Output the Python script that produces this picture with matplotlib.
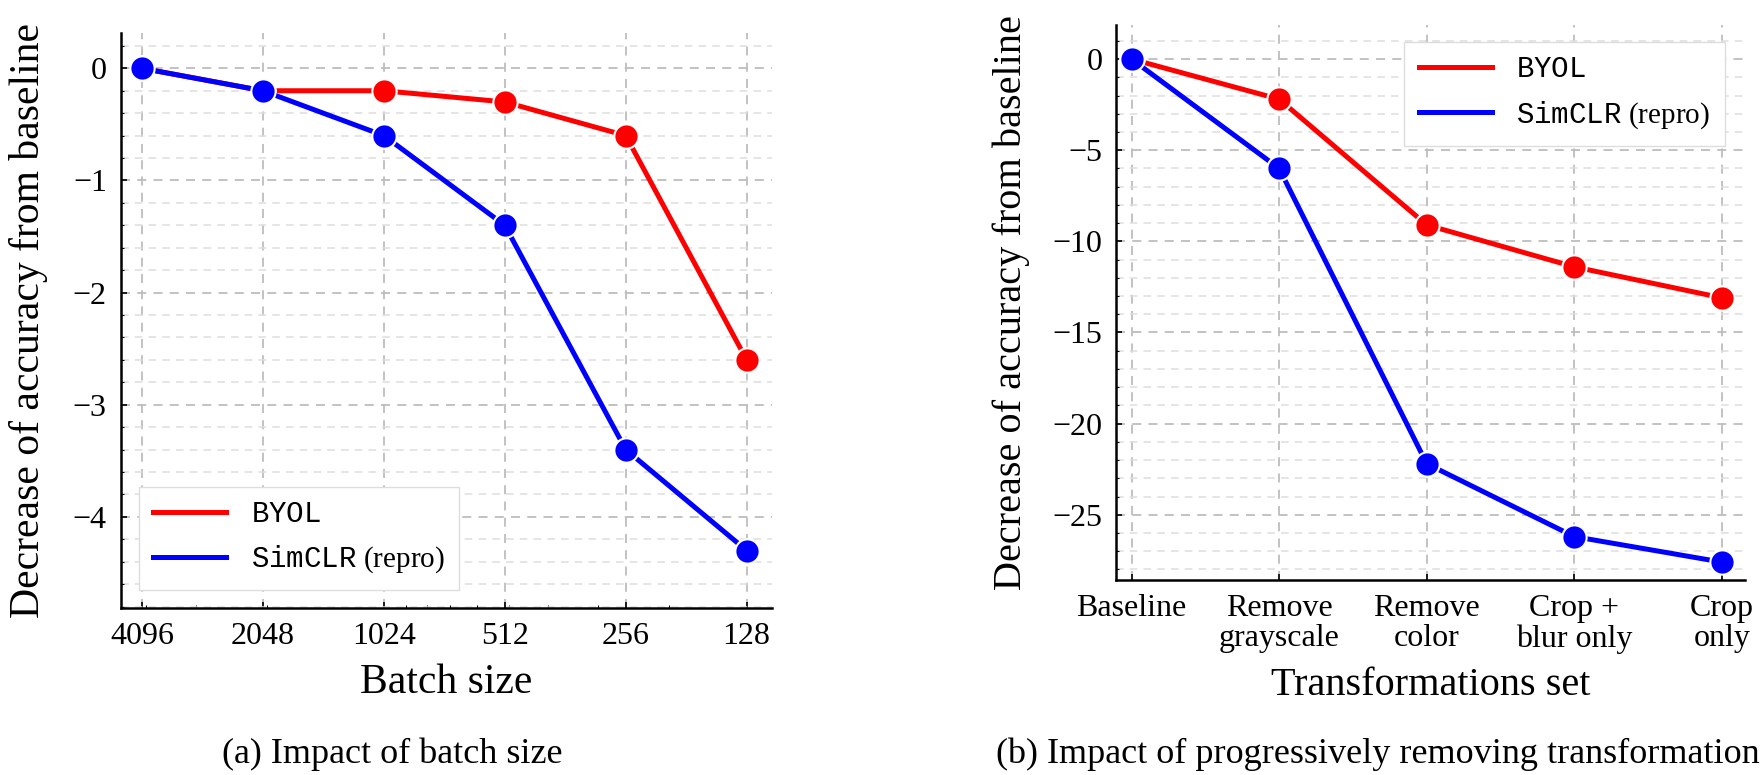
import numpy as np
import matplotlib
matplotlib.use("Agg")
import matplotlib.pyplot as plt
from matplotlib.lines import Line2D
from matplotlib.ticker import MultipleLocator, NullFormatter

# data --------------------------------------------------------------
batch_sizes = [4096, 2048, 1024, 512, 256, 128]
byol_batch = [0.0, -0.2, -0.2, -0.3, -0.6, -2.6]
simclr_batch = [0.0, -0.2, -0.6, -1.4, -3.4, -4.3]

transf_labels = ["Baseline", "Remove\ngrayscale", "Remove\ncolor",
                 "Crop +\nblur only", "Crop\nonly"]
byol_transf = [0.0, -2.2, -9.1, -11.4, -13.1]
simclr_transf = [0.0, -6.0, -22.2, -26.2, -27.6]

# style ---------------------------------------------------------------
plt.rcParams['font.family'] = ['Liberation Serif', 'DejaVu Serif']
plt.rcParams['mathtext.fontset'] = 'custom'
plt.rcParams['mathtext.rm'] = 'Liberation Serif'
plt.rcParams['mathtext.tt'] = 'Liberation Mono'

RED = '#ff0000'
BLUE = '#0000ff'
LW = 3.6
MS = 17.5
TICK_FS = 23
LABEL_FS = 29
LEG_FS = 21

def style_axes(ax):
  ax.spines['top'].set_visible(False)
  ax.spines['right'].set_visible(False)
  for s in ['left', 'bottom']:
    ax.spines[s].set_linewidth(1.8)
  ax.tick_params(which='major', direction='in', length=4, width=1.2,
                 labelsize=TICK_FS, pad=10)
  ax.tick_params(which='minor', direction='in', length=2, width=0.8)
  ax.grid(True, which='major', axis='both', ls=(0, (5, 4)),
          color='#bdbdbd', lw=1.3)
  ax.grid(True, which='minor', axis='y', ls=(0, (5, 4)),
          color='#dedede', lw=1.1)
  ax.set_axisbelow(True)

def draw(ax, x, a, b):
  kw = dict(lw=LW, marker='o', ms=MS, mec='white', mew=1.5)
  ax.plot(x, a, color=RED, **kw)
  ax.plot(x, b, color=BLUE, **kw)

def add_legend(ax, loc, anchor):
  handles = [Line2D([], [], color=RED, lw=LW),
             Line2D([], [], color=BLUE, lw=LW)]
  labels = [r'$\mathtt{BYOL}$', r'$\mathtt{SimCLR}$ (repro)']
  ax.legend(handles, labels, loc=loc, bbox_to_anchor=anchor,
            borderaxespad=0, fontsize=LEG_FS, frameon=True, fancybox=False,
            framealpha=1, edgecolor='#dddddd', handlelength=2.5,
            handletextpad=0.85, labelspacing=0.55, borderpad=0.5)

def place_labels(ax, ylab_x, xlab_y):
  ax.yaxis.label.set_va('center')
  ax.yaxis.set_label_coords(ylab_x, 0.5)
  ax.xaxis.label.set_va('baseline')
  ax.xaxis.set_label_coords(0.5, xlab_y)

fig = plt.figure(figsize=(17.6, 7.75), dpi=100)
W, H = 1760, 775

# left panel ----------------------------------------------------------
ax1 = fig.add_axes([120.7/W, 1-607.7/H, 651/W, 574.7/H])
style_axes(ax1)
draw(ax1, batch_sizes, byol_batch, simclr_batch)
ax1.set_xscale('log')
ax1.set_xticks(batch_sizes)
ax1.set_xticklabels([str(b) for b in batch_sizes])
ax1.xaxis.set_minor_formatter(NullFormatter())
ax1.set_xlim(4096*2**0.176, 128/2**0.207)
ax1.set_ylim(-4.81, 0.315)
ax1.yaxis.set_major_locator(MultipleLocator(1))
ax1.yaxis.set_minor_locator(MultipleLocator(0.2))
ax1.set_xlabel("Batch size", fontsize=LABEL_FS + 1)
ax1.set_ylabel("Decrease of accuracy from baseline", fontsize=LABEL_FS + 1)
place_labels(ax1, (29-120.7)/651, (607.7-692.7)/574.7)
add_legend(ax1, 'lower left', (18/651, 17.7/574.7))

# right panel ---------------------------------------------------------
ax2 = fig.add_axes([1116.3/W, 1-580/H, 628.7/W, 555/H])
style_axes(ax2)
xs = np.arange(len(transf_labels))
draw(ax2, xs, byol_transf, simclr_transf)
ax2.set_xticks(xs)
ax2.set_xticklabels(transf_labels, linespacing=1.05)
ax2.set_xlim(-0.103, 4.156)
ax2.set_ylim(-28.58, 1.87)
ax2.yaxis.set_major_locator(MultipleLocator(5))
ax2.yaxis.set_minor_locator(MultipleLocator(1))
ax2.set_xlabel("Transformations set", fontsize=LABEL_FS)
ax2.set_ylabel("Decrease of accuracy from baseline", fontsize=LABEL_FS)
place_labels(ax2, (1011-1116.3)/628.7, (580-695)/555)
add_legend(ax2, 'upper left', (287.7/628.7, 1-17.3/555))

# captions ------------------------------------------------------------
fig.text(392.5/W, 1-763/H, "(a) Impact of batch size", fontsize=26,
         ha='center', va='baseline')
fig.text(1.0, 1-763/H, "(b) Impact of progressively removing transformation",
         fontsize=26, ha='right', va='baseline')

fig.savefig("out.png", dpi=100)
